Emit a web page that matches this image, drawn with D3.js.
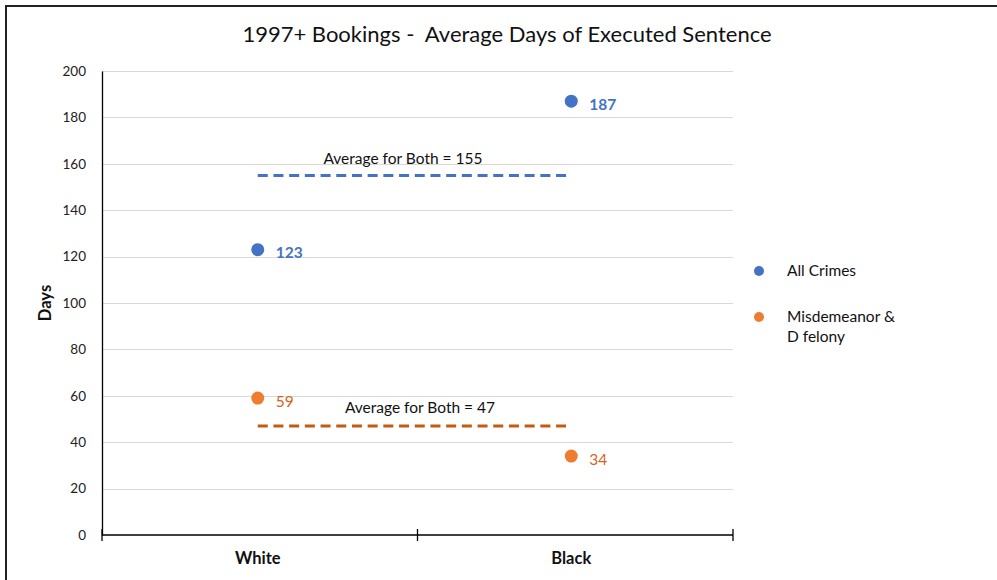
<!DOCTYPE html>
<meta charset="utf-8">
<style>
body { margin: 0; background: #fff; }
text { font-family: Lato, "Open Sans", sans-serif; }
.grid line { stroke: #d9d9d9; stroke-width: 1; shape-rendering: crispEdges; }
.grid path { stroke-width: 0; }
</style>
<body>
<svg width="997" height="580"></svg>
<script src="https://d3js.org/d3.v7.min.js"></script>
<script>

var groups = ["White", "Black"];
var allCrimes = [123, 187];
var misdemeanor = [59, 34];
var avgAll = 155;
var avgMis = 47;
var yTicks = [0, 20, 40, 60, 80, 100, 120, 140, 160, 180, 200];
var seriesNames = ["All Crimes", "Misdemeanor & D felony"];

var svg = d3.select("svg");

// outer chart frame (only top and left edges are visible in the crop)
svg.append("path")
	.attr("d", "M6,580 L6,6 L997,6")
	.attr("fill", "none")
	.attr("stroke", "#222")
	.attr("stroke-width", 2);

var pLeft = 102, pRight = 733, pTop = 71, pBottom = 535;

var y = d3.scaleLinear().domain([0, 200]).range([pBottom, pTop]);
var x = d3.scaleBand().domain(groups).range([pLeft, pRight - 4]);
var xc = function(d){ return x(d) + x.bandwidth()/2 - 1; };

// gridlines
svg.append("g")
	.attr("class", "grid")
	.attr("transform", "translate(" + pLeft + ",0)")
	.call(d3.axisLeft(y).tickValues(yTicks.slice(1)).tickSize(-(pRight-pLeft)).tickFormat(""));

// y axis
var yAxis = svg.append("g")
	.attr("transform", "translate(" + pLeft + ",0)")
	.call(d3.axisLeft(y).tickValues(yTicks).tickSize(0).tickPadding(16));
yAxis.select(".domain").attr("stroke", "#000").attr("stroke-width", 1.3);
yAxis.selectAll("text").style("font-size", "13.5px").attr("fill", "#222").style("font-family", "Lato, sans-serif");

// x axis
var xAxis = svg.append("g")
	.attr("transform", "translate(0," + pBottom + ")");
xAxis.append("line")
	.attr("x1", pLeft).attr("x2", pRight)
	.attr("y1", 0).attr("y2", 0)
	.attr("stroke", "#000").attr("stroke-width", 1.3);
var bounds = [pLeft, (pLeft + pRight) / 2, pRight];
xAxis.selectAll(".xtick")
	.data(bounds)
	.enter().append("line")
	.attr("x1", function(d){ return d; }).attr("x2", function(d){ return d; })
	.attr("y1", -6).attr("y2", 6)
	.attr("stroke", "#000").attr("stroke-width", 1.3);
xAxis.selectAll(".xlab")
	.data(groups)
	.enter().append("text")
	.attr("x", xc)
	.attr("y", 29)
	.attr("text-anchor", "middle")
	.style("font-size", "16.5px")
	.style("font-weight", "bold")
	.attr("fill", "#111")
	.text(function(d){ return d; });

// axis title
svg.append("text")
	.attr("transform", "translate(51,303) rotate(-90)")
	.attr("text-anchor", "middle")
	.style("font-size", "16.5px")
	.style("font-weight", "bold")
	.attr("fill", "#111")
	.text("Days");

// chart title
svg.append("text")
	.attr("x", 507).attr("y", 42)
	.attr("text-anchor", "middle")
	.style("font-size", "22px")
	.style("white-space", "pre")
	.attr("fill", "#111")
	.text("1997+ Bookings -  Average Days of Executed Sentence");

// average lines
function avgLine(val, color) {
	svg.append("line")
		.attr("x1", xc("White")).attr("x2", xc("Black"))
		.attr("y1", y(val)).attr("y2", y(val))
		.attr("stroke", color)
		.attr("stroke-width", 3)
		.attr("stroke-dasharray", "10,5.7");
}
avgLine(avgAll, "#4472C4");
avgLine(avgMis, "#C55A11");

svg.append("text")
	.attr("x", 403).attr("y", y(avgAll) - 11)
	.attr("text-anchor", "middle")
	.style("font-size", "15.5px")
	.attr("fill", "#111")
	.text("Average for Both = " + avgAll);

svg.append("text")
	.attr("x", 420).attr("y", y(avgMis) - 13)
	.attr("text-anchor", "middle")
	.style("font-size", "15.5px")
	.attr("fill", "#111")
	.text("Average for Both = " + avgMis);

// points
function dots(values, color, labelColor, bold) {
	svg.selectAll(null)
		.data(values)
		.enter().append("circle")
		.attr("cx", function(d, i){ return xc(groups[i]); })
		.attr("cy", function(d){ return y(d); })
		.attr("r", 6.5)
		.attr("fill", color);
	svg.selectAll(null)
		.data(values)
		.enter().append("text")
		.attr("x", function(d, i){ return xc(groups[i]) + 18; })
		.attr("y", function(d){ return y(d) + 8.5; })
		.style("font-size", "15.5px")
		.style("font-weight", bold ? "bold" : "normal")
		.attr("fill", labelColor)
		.text(function(d){ return d; });
}
dots(allCrimes, "#4472C4", "#4472C4", true);
dots(misdemeanor, "#ED7D31", "#D0661F", false);

// legend
var legend = svg.append("g");
legend.append("circle").attr("cx", 759).attr("cy", 271).attr("r", 5).attr("fill", "#4472C4");
legend.append("text").attr("x", 787).attr("y", 276).style("font-size", "15.5px").attr("fill", "#111").text(seriesNames[0]);
legend.append("circle").attr("cx", 759).attr("cy", 317).attr("r", 5).attr("fill", "#ED7D31");
legend.append("text").attr("x", 787).attr("y", 322).style("font-size", "15.5px").attr("fill", "#111").text("Misdemeanor &");
legend.append("text").attr("x", 787).attr("y", 342).style("font-size", "15.5px").attr("fill", "#111").text("D felony");

</script>
</body>
</html>
